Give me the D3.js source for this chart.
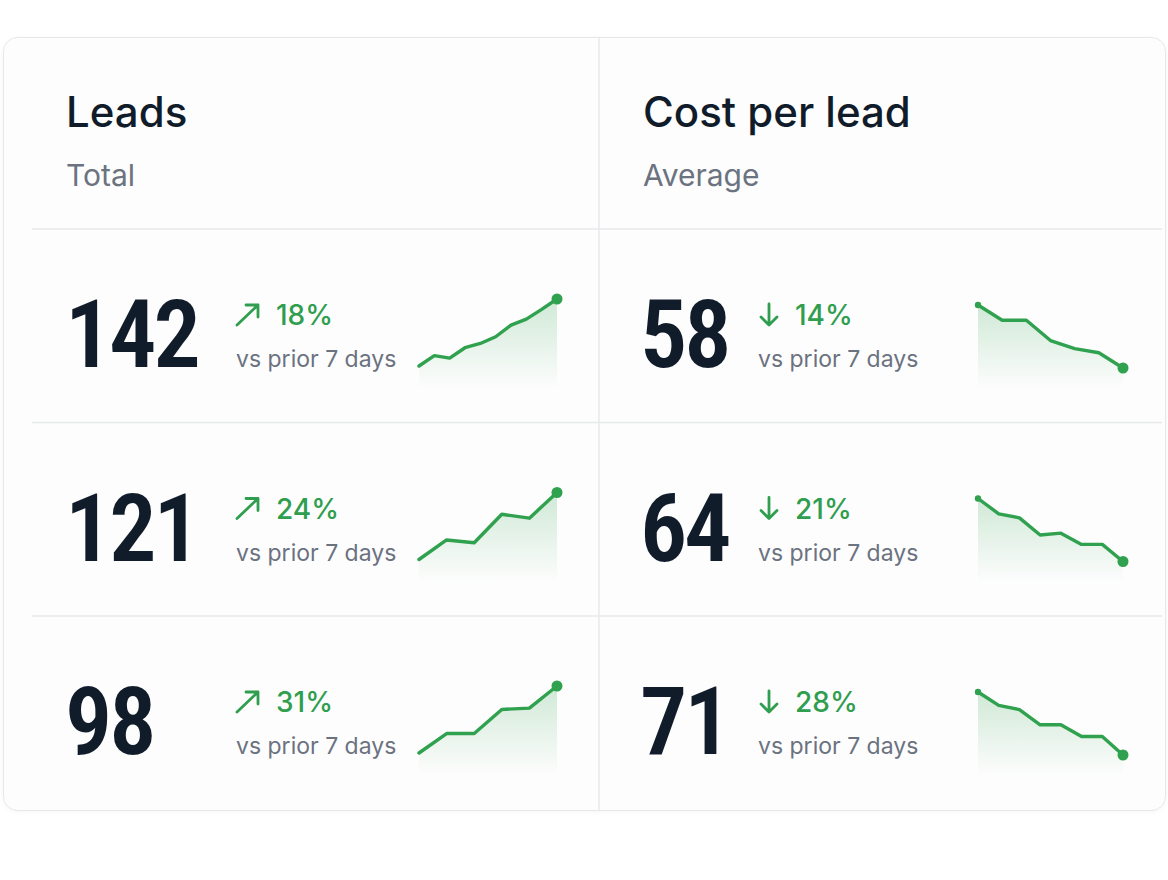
<!DOCTYPE html>
<html lang="en">
<head>
<meta charset="utf-8">
<title>Leads and cost per lead</title>
<script src="https://cdn.jsdelivr.net/npm/d3@7"></script>
<style>
  html, body { margin: 0; padding: 0; background: #ffffff; }
  svg { display: block; }
</style>
</head>
<body>
<svg width="1168" height="880"></svg>
<script>
// ---- data ----
const metrics = ["Leads", "Cost per lead"];
const subtitles = ["Total", "Average"];
const leadValues = [142, 121, 98];
const leadChanges = [18, 24, 31];
const costValues = [58, 64, 71];
const costChanges = [14, 21, 28];
const compareLabel = "vs prior 7 days";

// daily trend behind each figure
const leadTrends = [
  [10, 11.7, 11.3, 13, 13.7, 14.8, 16.7, 17.7, 19.3, 21],
  [12, 15.5, 15.0, 20.1, 19.4, 24],
  [9, 11.9, 11.9, 15.5, 15.7, 19]
];
const costTrends = [
  [66, 62.6, 62.6, 58.1, 56.3, 55.4, 52],
  [72, 68.6, 67.7, 63.9, 64.3, 61.8, 61.8, 58],
  [79, 75.8, 74.8, 71.2, 71.2, 68.4, 68.4, 64]
];

// ---- layout ----
const svg = d3.select("svg");
const green = "#30a14e";
const greenText = "#2f9e4f";
const ink = "#111c2b";
const muted = "#6b7280";
const line = "#e8e9ec";

const card = {x: 3.5, y: 37.5, w: 1162, h: 773};
const headerBottom = 229;
const rowH = 193.5;

const cols = [
  {title: metrics[0], sub: subtitles[0], values: leadValues, changes: leadChanges, trends: leadTrends,
   up: true, titleX: 66, numX: 65, arrowX: 237, deltaX: 276, vsX: 236, sparkX: [419, 557], sparkTop: 70, sparkBot: 137},
  {title: metrics[1], sub: subtitles[1], values: costValues, changes: costChanges, trends: costTrends,
   up: false, titleX: 643, numX: 640, arrowX: 760, deltaX: 795, vsX: 758, sparkX: [978, 1123], sparkTop: 76, sparkBot: 139}
];

const defs = svg.append("defs");
const grad = defs.append("linearGradient")
  .attr("id", "sparkFill").attr("x1", 0).attr("y1", 0).attr("x2", 0).attr("y2", 1);
grad.append("stop").attr("offset", "0%").attr("stop-color", green).attr("stop-opacity", 0.22);
grad.append("stop").attr("offset", "100%").attr("stop-color", green).attr("stop-opacity", 0);

const shadow = defs.append("filter").attr("id", "cardShadow")
  .attr("x", "-5%").attr("y", "-5%").attr("width", "110%").attr("height", "110%");
shadow.append("feDropShadow").attr("dx", 0).attr("dy", 1).attr("stdDeviation", 2)
  .attr("flood-color", "#000").attr("flood-opacity", 0.04);

// card
svg.append("rect")
  .attr("x", card.x).attr("y", card.y)
  .attr("width", card.w).attr("height", card.h)
  .attr("rx", 14)
  .attr("fill", "#fdfdfd")
  .attr("stroke", "#e6e7ea")
  .attr("filter", "url(#cardShadow)");

// dividers
svg.append("line")
  .attr("x1", 599).attr("x2", 599)
  .attr("y1", card.y).attr("y2", card.y + card.h)
  .attr("stroke", line).attr("stroke-width", 1.5);

const rowTops = leadValues.map((d, i) => headerBottom + i * rowH);
svg.selectAll("line.row")
  .data(rowTops)
  .enter()
  .append("line")
  .attr("class", "row")
  .attr("x1", 32).attr("x2", 1162)
  .attr("y1", d => d).attr("y2", d => d)
  .attr("stroke", line).attr("stroke-width", 1.5);

cols.forEach(col => {
  svg.append("text")
    .attr("x", col.titleX).attr("y", 127)
    .style("font-family", "Inter, 'Noto Sans', sans-serif")
    .style("font-size", "42px").style("font-weight", 500)
    .style("fill", ink)
    .text(col.title);

  svg.append("text")
    .attr("x", col.titleX).attr("y", 186)
    .style("font-family", "Inter, 'Noto Sans', sans-serif")
    .style("font-size", "30px")
    .style("fill", muted)
    .text(col.sub);

  col.values.forEach((v, i) => {
    const top = rowTops[i];
    const g = svg.append("g");

    g.append("text")
      .attr("x", col.numX).attr("y", top + 138)
      .style("font-family", "'Liberation Sans Narrow', 'Roboto Condensed', Roboto, sans-serif")
      .style("font-size", "94px").style("font-weight", 600)
      .style("letter-spacing", "-3px")
      .style("fill", ink)
      .text(v);

    // arrow icon
    const base = top + 96;
    const ax = col.arrowX;
    const arrow = col.up
      ? `M${ax},${base} L${ax + 21},${base - 20} M${ax + 9},${base - 20} L${ax + 21},${base - 20} L${ax + 21},${base - 8}`
      : `M${ax + 9},${base - 21} L${ax + 9},${base} M${ax + 1},${base - 8} L${ax + 9},${base} L${ax + 17},${base - 8}`;
    g.append("path")
      .attr("d", arrow)
      .attr("fill", "none")
      .attr("stroke", greenText)
      .attr("stroke-width", 2.8)
      .attr("stroke-linecap", "round")
      .attr("stroke-linejoin", "round");

    g.append("text")
      .attr("x", col.deltaX).attr("y", base)
      .style("font-family", "Inter, 'Noto Sans', sans-serif")
      .style("font-size", "28px").style("font-weight", 500)
      .style("fill", greenText)
      .text(col.changes[i] + "%");

    g.append("text")
      .attr("x", col.vsX).attr("y", top + 138)
      .style("font-family", "Inter, 'Noto Sans', sans-serif")
      .style("font-size", "23px")
      .style("fill", muted)
      .text(compareLabel);

    // sparkline
    const series = col.trends[i];
    const x = d3.scaleLinear().domain([0, series.length - 1]).range(col.sparkX);
    const y = d3.scaleLinear().domain(d3.extent(series)).range([top + col.sparkBot, top + col.sparkTop]);
    const floor = top + 160;

    g.append("path")
      .datum(series)
      .attr("d", d3.area().x((d, j) => x(j)).y0(floor).y1(d => y(d)))
      .attr("fill", "url(#sparkFill)");

    g.append("path")
      .datum(series)
      .attr("d", d3.line().x((d, j) => x(j)).y(d => y(d)))
      .attr("fill", "none")
      .attr("stroke", green)
      .attr("stroke-width", 3.4)
      .attr("stroke-linejoin", "round")
      .attr("stroke-linecap", "round");

    const last = series.length - 1;
    g.append("circle")
      .attr("cx", x(last)).attr("cy", y(series[last]))
      .attr("r", 5.5).attr("fill", green);
    if (!col.up) {
      g.append("circle")
        .attr("cx", x(0)).attr("cy", y(series[0]))
        .attr("r", 3.2).attr("fill", green);
    }
  });
});
</script>
</body>
</html>
